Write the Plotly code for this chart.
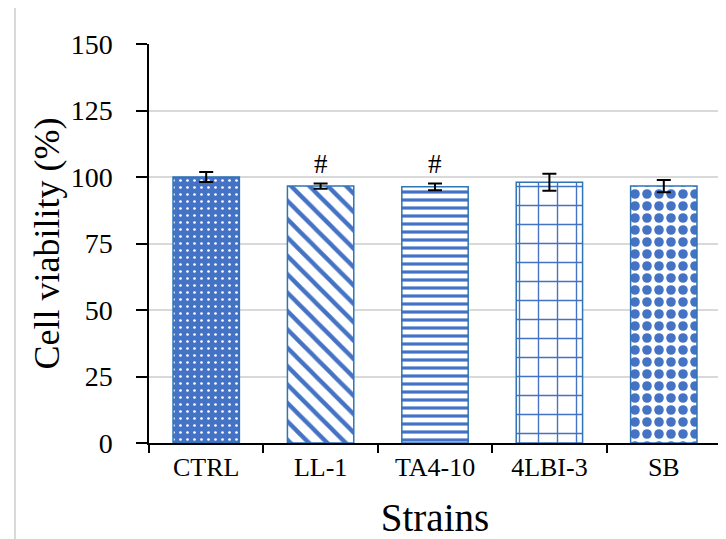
import plotly.graph_objects as go

strains = ["CTRL", "LL-1", "TA4-10", "4LBI-3", "SB"]
viability = [100.0, 96.6, 96.3, 98.0, 96.6]
errors = [1.9, 1.0, 1.3, 3.2, 2.3]
marks = ["", "#", "#", "", ""]
y_ticks = [0, 25, 50, 75, 100, 125, 150]

BLUE = "#4472C4"
EDGE = "#2E75B6"
FONT = "Liberation Serif"

patterns = [
    dict(shape=".", bgcolor=BLUE, fgcolor="white", size=7, solidity=0.12, fillmode="replace"),
    dict(shape="\\", bgcolor="white", fgcolor=BLUE, size=13, solidity=0.33, fillmode="replace"),
    dict(shape="-", bgcolor="white", fgcolor=BLUE, size=8, solidity=0.4, fillmode="replace"),
    dict(shape="+", bgcolor="white", fgcolor=BLUE, size=19, solidity=0.14, fillmode="replace"),
    dict(shape=".", bgcolor="white", fgcolor=BLUE, size=12, solidity=0.5, fillmode="replace"),
]

fig = go.Figure()
for s, v, e, p in zip(strains, viability, errors, patterns):
    fig.add_trace(go.Bar(
        x=[s], y=[v],
        width=0.58,
        marker=dict(color="white", pattern=p, line=dict(color=EDGE, width=1.5)),
        error_y=dict(type="data", array=[e], visible=True, color="black", thickness=2, width=7),
        showlegend=False,
    ))

for s, v, e, m in zip(strains, viability, errors, marks):
    if m:
        fig.add_annotation(x=s, y=v + e, text=m, showarrow=False, yanchor="bottom", yshift=2,
                           font=dict(family=FONT, size=27, color="black"))

# light frame edge at the left of the picture
fig.add_shape(type="line", xref="paper", yref="paper",
              x0=-0.2343, x1=-0.2343, y0=-0.25, y1=1.12,
              line=dict(color="#D9D9D9", width=2))

fig.update_layout(
    width=718, height=531,
    margin=dict(l=141, r=5, t=36, b=96),
    paper_bgcolor="white", plot_bgcolor="white",
    font=dict(family=FONT, color="black"),
)
fig.update_xaxes(
    type="category", categoryorder="array", categoryarray=strains,
    automargin=False,
    showline=True, linecolor="black", linewidth=1.5,
    ticks="outside", tickson="boundaries", ticklen=8, tickcolor="black", tickwidth=1.5,
    tickfont=dict(family=FONT, size=26, color="black"),
    title=dict(text="Strains", font=dict(family=FONT, size=39, color="black"), standoff=26),
    showgrid=False,
)
fig.update_yaxes(
    range=[0, 150], tickvals=y_ticks,
    automargin=False,
    showline=True, linecolor="black", linewidth=1.5,
    ticks="outside", ticklen=11, tickcolor="black", tickwidth=1.5,
    tickfont=dict(family=FONT, size=28, color="black"),
    ticklabelstandoff=18,
    showgrid=True, gridcolor="#D9D9D9", gridwidth=1.5,
    zeroline=False,
    title=dict(text="Cell viability (%)", font=dict(family=FONT, size=36, color="black"), standoff=0),
)

fig.write_html("out.html")
